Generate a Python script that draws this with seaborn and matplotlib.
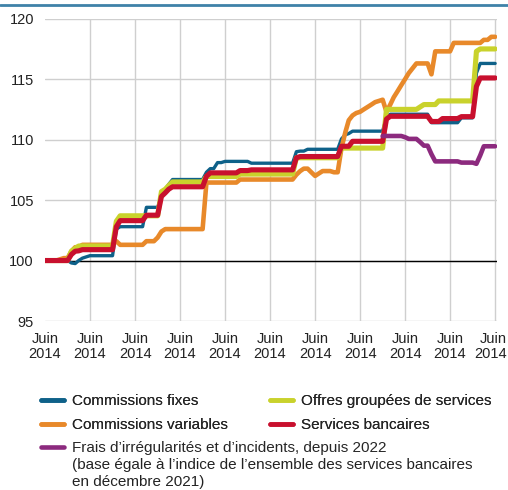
import numpy as np
import pandas as pd
import seaborn as sns
import matplotlib
matplotlib.use("Agg")
from matplotlib import pyplot as plt
from matplotlib.lines import Line2D
from matplotlib.transforms import ScaledTranslation

# Indices mensuels (base 100 = juin 2014), de juin 2014 à juin 2024
mois = pd.date_range("2014-06-01", periods=121, freq="MS")

fixes = [
    100.0, 100.0, 100.0, 100.0, 100.0, 100.0, 100.0, 99.8, 99.75, 100.0, 100.2, 100.3,
    100.4, 100.4, 100.4, 100.4, 100.4, 100.4, 100.4, 102.6, 102.8, 102.8, 102.8, 102.8,
    102.8, 102.8, 102.8, 104.4, 104.4, 104.4, 104.4, 105.3, 105.9, 106.3, 106.7, 106.7,
    106.7, 106.7, 106.7, 106.7, 106.7, 106.7, 106.7, 107.3, 107.6, 107.6, 108.1, 108.1,
    108.2, 108.2, 108.2, 108.2, 108.2, 108.2, 108.2, 108.05, 108.05, 108.05, 108.05, 108.05,
    108.05, 108.05, 108.05, 108.05, 108.05, 108.05, 108.05, 109.0, 109.05, 109.05, 109.2, 109.2,
    109.2, 109.2, 109.2, 109.2, 109.2, 109.2, 109.2, 110.06, 110.4, 110.5, 110.7, 110.7,
    110.7, 110.7, 110.7, 110.7, 110.7, 110.7, 110.7, 111.9, 112.1, 112.1, 112.1, 112.1,
    112.1, 112.1, 112.1, 112.1, 112.1, 112.1, 112.1, 111.4, 111.4, 111.4, 111.4, 111.4,
    111.4, 111.4, 111.4, 111.8, 111.8, 111.8, 111.8, 115.5, 116.3, 116.3, 116.3, 116.3,
    116.3]

variables = [
    100.0, 100.0, 100.0, 100.0, 100.1, 100.2, 100.2, 100.77, 101.1, 101.1, 101.3, 101.3,
    101.3, 101.3, 101.3, 101.3, 101.3, 101.3, 101.3, 101.6, 101.3, 101.3, 101.3, 101.3,
    101.3, 101.3, 101.3, 101.6, 101.6, 101.6, 101.9, 102.4, 102.6, 102.6, 102.6, 102.6,
    102.6, 102.6, 102.6, 102.6, 102.6, 102.6, 102.6, 106.45, 106.45, 106.45, 106.45, 106.45,
    106.45, 106.45, 106.45, 106.45, 106.7, 106.7, 106.7, 106.7, 106.7, 106.7, 106.7, 106.7,
    106.7, 106.7, 106.7, 106.7, 106.7, 106.7, 106.7, 107.1, 107.4, 107.6, 107.6, 107.3,
    107.0, 107.2, 107.4, 107.4, 107.4, 107.3, 107.3, 109.3, 110.6, 111.6, 112.0, 112.2,
    112.3, 112.5, 112.7, 112.9, 113.1, 113.2, 113.3, 112.3, 112.9, 113.5, 114.0, 114.5,
    115.0, 115.5, 115.9, 116.3, 116.3, 116.3, 116.3, 115.4, 117.3, 117.3, 117.3, 117.3,
    117.3, 118.0, 118.0, 118.0, 118.0, 118.0, 118.0, 118.0, 118.0, 118.25, 118.25, 118.5,
    118.5]

offres = [
    100.0, 100.0, 100.0, 100.0, 100.0, 100.0, 100.0, 100.77, 101.0, 101.2, 101.2, 101.2,
    101.2, 101.2, 101.2, 101.2, 101.2, 101.2, 101.2, 103.25, 103.7, 103.7, 103.7, 103.7,
    103.7, 103.7, 103.7, 103.7, 103.7, 103.7, 103.7, 105.7, 105.9, 106.2, 106.5, 106.5,
    106.5, 106.5, 106.5, 106.5, 106.5, 106.5, 106.5, 106.95, 106.95, 106.95, 106.95, 106.95,
    106.95, 106.95, 106.95, 106.95, 107.15, 107.15, 107.15, 107.15, 107.15, 107.15, 107.15, 107.15,
    107.15, 107.15, 107.15, 107.15, 107.15, 107.15, 107.15, 108.5, 108.5, 108.5, 108.5, 108.5,
    108.5, 108.5, 108.5, 108.5, 108.5, 108.5, 108.5, 109.3, 109.3, 109.3, 109.3, 109.3,
    109.3, 109.3, 109.3, 109.3, 109.3, 109.3, 109.3, 112.5, 112.5, 112.5, 112.5, 112.5,
    112.5, 112.5, 112.5, 112.5, 112.7, 112.9, 112.9, 112.9, 112.9, 113.2, 113.2, 113.2,
    113.2, 113.2, 113.2, 113.2, 113.2, 113.2, 113.2, 117.3, 117.5, 117.5, 117.5, 117.5,
    117.5]

services = [
    100.0, 100.0, 100.0, 100.0, 100.0, 100.0, 100.0, 100.5, 100.77, 100.8, 100.9, 100.9,
    100.9, 100.9, 100.9, 100.9, 100.9, 100.9, 100.9, 102.8, 103.3, 103.3, 103.3, 103.3,
    103.3, 103.3, 103.3, 103.75, 103.75, 103.75, 103.75, 105.3, 105.6, 105.9, 106.1, 106.1,
    106.1, 106.1, 106.1, 106.1, 106.1, 106.1, 106.1, 106.97, 107.25, 107.25, 107.25, 107.25,
    107.25, 107.25, 107.25, 107.25, 107.44, 107.44, 107.44, 107.5, 107.5, 107.5, 107.5, 107.5,
    107.5, 107.5, 107.5, 107.5, 107.5, 107.5, 107.5, 108.5, 108.6, 108.6, 108.6, 108.6,
    108.6, 108.6, 108.6, 108.6, 108.6, 108.6, 108.6, 109.45, 109.45, 109.45, 109.86, 109.86,
    109.86, 109.86, 109.86, 109.86, 109.86, 109.86, 109.86, 111.7, 111.93, 111.93, 111.93, 111.93,
    111.93, 111.93, 111.93, 111.93, 111.93, 111.93, 111.93, 111.5, 111.5, 111.5, 111.74, 111.74,
    111.74, 111.74, 111.74, 111.9, 111.9, 111.9, 111.9, 114.4, 115.1, 115.1, 115.1, 115.1,
    115.1]

frais = [None] * 90 + [
    110.3, 110.3, 110.3, 110.3, 110.3, 110.3,
    110.2, 110.06, 110.06, 110.06, 109.8, 109.5, 109.5, 108.8, 108.2, 108.2, 108.2, 108.2,
    108.2, 108.2, 108.2, 108.1, 108.1, 108.1, 108.1, 108.0, 108.7, 109.45, 109.45, 109.45,
    109.45]

df = pd.DataFrame({"Date": mois, "fixes": fixes, "variables": variables,
                   "offres": offres, "services": services,
                   "frais": pd.to_numeric(pd.Series(frais), errors="coerce")})

sns.set_style("white")
plt.rcParams["font.family"] = ["Liberation Sans", "DejaVu Sans"]

W, H = 508, 490
fig = plt.figure(figsize=(W / 100, H / 100), dpi=100)
ax = fig.add_axes([45 / W, 1 - 321 / H, 452 / W, (321 - 18.7) / H])

# ordre de tracé : bleu en dessous, puis orange, vert, rouge, violet
series = [
    ("fixes", "#0e6189", 2.4, "Commissions fixes"),
    ("variables", "#e8892a", 3.3, "Commissions variables"),
    ("offres", "#c9d22c", 3.7, "Offres groupées de services"),
    ("services", "#c8102e", 3.7, "Services bancaires"),
    ("frais", "#8c2a7e", 3.3, "Frais d\u2019irrégularités et d\u2019incidents, depuis 2022"),
]
handles = {}
for col, couleur, lw, nom in series:
    sns.lineplot(data=df, x="Date", y=col, color=couleur, linewidth=lw, ax=ax)
    handles[col] = Line2D([], [], color=couleur, linewidth=3.3, label=nom)

ax.axhline(100, color="black", linewidth=1, zorder=1)

ax.set_ylim(95, 120)
ax.set_xlim(pd.Timestamp("2014-06-01"), pd.Timestamp("2024-06-16"))
ax.set_yticks([95, 100, 105, 110, 115, 120])
ticks = pd.date_range("2014-06-01", "2024-06-01", freq="12MS")
ax.set_xticks(ticks)
ax.set_xticklabels(["Juin\n2014"] * len(ticks), linespacing=1.05)
ax.tick_params(axis="both", length=0, labelsize=10.5, colors="#222222")
ax.tick_params(axis="x", pad=8)
ax.tick_params(axis="y", pad=8)
ax.set_xlabel("")
ax.set_ylabel("")
ax.grid(True, color="#cfcfcf", linewidth=1)
ax.get_xgridlines()[0].set_visible(False)
for s in ax.spines.values():
    s.set_visible(False)

# dernière étiquette calée à droite pour rester dans l'image
last = ax.get_xticklabels()[-1]
last.set_horizontalalignment("right")
last.set_transform(last.get_transform() + ScaledTranslation(0.12, 0, fig.dpi_scale_trans))

# filet bleu en haut
fig.add_artist(Line2D([0, 1], [1 - 5 / H, 1 - 5 / H], color="#3f82a8", linewidth=2,
                      transform=fig.transFigure))

# légende : 4 séries sur deux colonnes, puis la série violette avec sa note
leg_fs = 11
leg1 = fig.legend(handles=[handles["fixes"], handles["variables"], handles["offres"], handles["services"]],
                  loc="upper left", bbox_to_anchor=(41 / W, 1 - 394 / H), ncol=2, frameon=False,
                  fontsize=leg_fs, handlelength=1.5, handletextpad=0.5, columnspacing=2.8,
                  labelspacing=0.68, borderpad=0, borderaxespad=0)
leg2 = fig.legend(handles=[handles["frais"]], loc="upper left", bbox_to_anchor=(41 / W, 1 - 441 / H),
                  frameon=False, fontsize=leg_fs, handlelength=1.5, handletextpad=0.5,
                  borderpad=0, borderaxespad=0)
fig.add_artist(leg1)

# suite du libellé violet, alignée sur le texte de la légende
fig.canvas.draw()
bb = leg2.get_texts()[0].get_window_extent()
fig.text(bb.x0 / W, bb.y0 / H - 0.006,
         "(base égale à l\u2019indice de l\u2019ensemble des services bancaires\nen décembre 2021)",
         fontsize=leg_fs, va="top", ha="left", linespacing=1.3, color="#222222")

fig.savefig("out.png", dpi=100)
